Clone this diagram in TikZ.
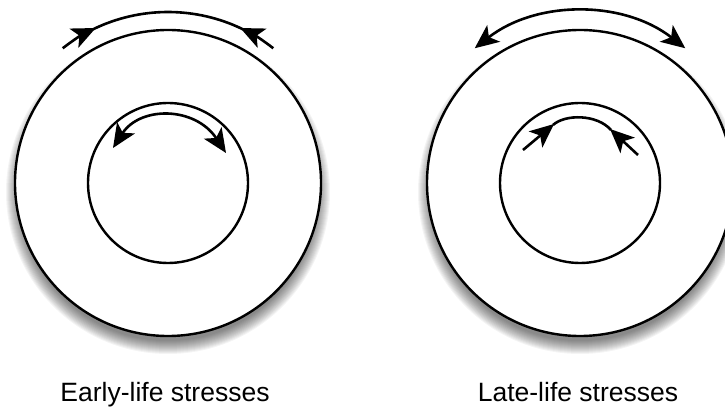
\documentclass[tikz,border=0pt]{standalone}
\usepackage{fontspec}
\setmainfont{Liberation Sans}
\usetikzlibrary{arrows.meta, positioning}

\begin{document}
\begin{tikzpicture}[
			x=1pt, y=1pt,
			every node/.style={font=\fontsize{26.5}{30}\selectfont},
			ring/.style={
				circle, draw, fill=white, line width=2.4pt,
				minimum size=306pt, inner sep=0pt
			},
			core/.style={
				circle, draw, line width=2.4pt,
				minimum size=160pt, inner sep=0pt
			},
			stress/.style={line width=2.6pt},
			push/.style={stress, -{Stealth[length=24pt, width=21pt, inset=6pt]}},
			pull/.style={stress, {Stealth[length=24pt, width=21pt, inset=6pt]}-{Stealth[length=24pt, width=21pt, inset=6pt]}}
			]
			\useasboundingbox (0,0) rectangle (725,410);
			\clip (0,0) rectangle (725,410);
			
			% soft shadows under the outer rings
			\foreach \cx in {168,580}
				\foreach \k in {1,...,14}
					\fill[black, opacity=0.045] (\cx,218) circle (148+\k);
			
			\node[ring] (earlyouter) at (168,227) {};
			\node[core] (earlyinner) at (earlyouter.center) {};
			\node[ring] (lateouter) at (580,227) {};
			\node[core] (lateinner) at (lateouter.center) {};
			
			\node[anchor=base] (earlylabel) at (165,9) {Early-life stresses};
			\node[anchor=base] (latelabel) at (578,9) {Late-life stresses};
			
			% early life: outer arrows pushing in, inner arrows pushing out
			\draw[push] ([shift={(128:171)}]earlyouter.center) arc[start angle=128, end angle=115, radius=171];
			\draw[stress] ([shift={(116:171)}]earlyouter.center) arc[start angle=116, end angle=64, radius=171];
			\draw[push] ([shift={(52:171)}]earlyouter.center) arc[start angle=52, end angle=65, radius=171];
			\draw[pull] (113,262) .. controls (140,304) and (195,304) .. (226,257);
			
			% late life: outer arrows pushing out, inner arrows pushing in
			\draw[pull] ([shift={(128:171)}]lateouter.center) arc[start angle=128, end angle=52, radius=171];
			\draw[push] (523,260) -- (554,286);
			\draw[stress] (553,285) .. controls (565,296) and (597,296) .. (611,280);
			\draw[push] (638,255) -- (610,281);
		\end{tikzpicture}
\end{document}
